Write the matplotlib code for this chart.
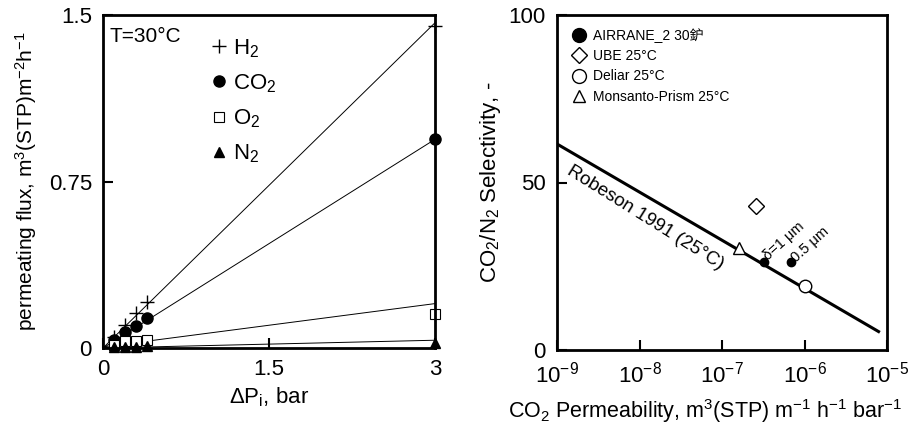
import numpy as np
import matplotlib
matplotlib.use("Agg")
import matplotlib.pyplot as plt
from matplotlib.lines import Line2D

plt.rcParams['font.family'] = ['Liberation Sans', 'Noto Sans CJK SC', 'DejaVu Sans']
plt.rcParams['mathtext.fontset'] = 'custom'
plt.rcParams['mathtext.rm'] = 'Liberation Sans'
plt.rcParams['mathtext.it'] = 'Liberation Sans:italic'

# left panel: permeating flux vs pressure difference, T=30°C
dp = [0.1, 0.2, 0.3, 0.4, 3.0]
flux_h2 = [0.05, 0.105, 0.157, 0.205, 1.45]
flux_co2 = [0.037, 0.072, 0.10, 0.135, 0.94]
flux_o2 = [0.012, 0.03, 0.03, 0.035, 0.155]
flux_n2 = [0.004, 0.005, 0.006, 0.007, 0.022]

fit_x = [0.0, 3.0]
fit_h2 = [0.0, 1.465]
fit_co2 = [0.0, 0.94]
fit_o2 = [0.005, 0.2]
fit_n2 = [0.0, 0.035]

# right panel: selectivity vs permeability
robeson_x = [1e-9, 7.9e-6]
robeson_y = [61.5, 5.5]
airrane_x = [3.2e-7, 6.8e-7]
airrane_y = [26.2, 26.2]
ube_x, ube_y = [2.6e-7], [43.0]
deliar_x, deliar_y = [1.02e-6], [19.1]
monsanto_x, monsanto_y = [1.6e-7], [30.3]

fig = plt.figure(figsize=(9.14, 4.26), dpi=100)

# ---------- left ----------
ax1 = fig.add_axes([103/914, 1-348/426, 332/914, 333/426])
for fy in (fit_h2, fit_co2, fit_o2, fit_n2):
    ax1.plot(fit_x, fy, color='black', lw=0.7)
h1, = ax1.plot(dp, flux_h2, ls='none', marker='+', ms=10, mew=1.0, color='black', clip_on=False)
h2, = ax1.plot(dp, flux_co2, ls='none', marker='o', ms=8, color='black', clip_on=False)
h3, = ax1.plot(dp, flux_o2, ls='none', marker='s', ms=7.5, mfc='white', mec='black', mew=0.8, clip_on=False)
h4, = ax1.plot(dp, flux_n2, ls='none', marker='^', ms=7.5, color='black', clip_on=False)
ax1.set_xlim(0, 3)
ax1.set_ylim(0, 1.5)
ax1.set_xticks([0, 1.5, 3])
ax1.set_xticklabels(['0', '1.5', '3'])
ax1.set_yticks([0, 0.75, 1.5])
ax1.set_yticklabels(['0', '0.75', '1.5'])
ax1.tick_params(direction='in', length=7, width=1.5, labelsize=16, pad=8)
for s in ax1.spines.values():
    s.set_linewidth(2)
ax1.set_xlabel('ΔP$_\\mathrm{i}$, bar', fontsize=16, labelpad=4)
ax1.set_ylabel('permeating flux, m$^3$(STP)m$^{-2}$h$^{-1}$', fontsize=15, labelpad=7)
ax1.text(0.02, 0.965, 'T=30°C', transform=ax1.transAxes, fontsize=15, va='top', ha='left')
ax1.legend([h1, h2, h3, h4], ['H$_2$', 'CO$_2$', 'O$_2$', 'N$_2$'],
           loc='upper left', bbox_to_anchor=(0.275, 0.98), frameon=False,
           fontsize=16, handlelength=0.8, handletextpad=0.25, labelspacing=0.56,
           borderpad=0.2)

# ---------- right ----------
ax2 = fig.add_axes([557/914, 1-350/426, 330/914, 335/426])
ax2.set_xscale('log')
ax2.plot(robeson_x, robeson_y, color='black', lw=2.2)
ax2.plot(airrane_x, airrane_y, ls='none', marker='o', ms=6, color='black')
ax2.plot(ube_x, ube_y, ls='none', marker='D', ms=8, mfc='white', mec='black', mew=1.0)
ax2.plot(deliar_x, deliar_y, ls='none', marker='o', ms=9, mfc='white', mec='black', mew=1.0)
ax2.plot(monsanto_x, monsanto_y, ls='none', marker='^', ms=8, mfc='white', mec='black', mew=1.0)
ax2.set_xlim(1e-9, 1e-5)
ax2.set_ylim(0, 100)
ax2.set_xticks([1e-9, 1e-8, 1e-7, 1e-6, 1e-5])
ax2.set_xticklabels(['$10^{-9}$', '$10^{-8}$', '$10^{-7}$', '$10^{-6}$', '$10^{-5}$'])
ax2.xaxis.set_minor_locator(matplotlib.ticker.NullLocator())
ax2.set_yticks([0, 50, 100])
ax2.tick_params(direction='in', length=7, width=1.5, labelsize=16, pad=8)
for s in ax2.spines.values():
    s.set_linewidth(2)
ax2.set_xlabel('CO$_2$ Permeability, m$^3$(STP) m$^{-1}$ h$^{-1}$ bar$^{-1}$', fontsize=15.5)
ax2.xaxis.set_label_coords(0.45, -0.14)
ax2.set_ylabel('CO$_2$/N$_2$ Selectivity, -', fontsize=16, labelpad=4)
ax2.text(1.55e-9, 56, 'Robeson 1991 (25°C)', fontsize=13.5, rotation=-32,
         rotation_mode='anchor', ha='left', va='top')
ax2.text(3.8e-7, 26.0, 'δ=1 μm', fontsize=10.5, rotation=42, rotation_mode='anchor', ha='left', va='bottom')
ax2.text(8.4e-7, 25.5, '0.5 μm', fontsize=10.5, rotation=42, rotation_mode='anchor', ha='left', va='bottom')
leg_handles = [
    Line2D([], [], ls='none', marker='o', ms=10, color='black'),
    Line2D([], [], ls='none', marker='D', ms=8, mfc='white', mec='black', mew=1.0),
    Line2D([], [], ls='none', marker='o', ms=10, mfc='white', mec='black', mew=1.0),
    Line2D([], [], ls='none', marker='^', ms=9, mfc='white', mec='black', mew=1.0),
]
ax2.legend(leg_handles, ['AIRRANE_2 30鈩', 'UBE 25°C', 'Deliar 25°C', 'Monsanto-Prism 25°C'],
           loc='upper left', bbox_to_anchor=(0.02, 0.99), frameon=False,
           fontsize=10, handlelength=0.8, handletextpad=0.6, labelspacing=0.45,
           borderpad=0.2)

fig.savefig('out.png', dpi=100)
